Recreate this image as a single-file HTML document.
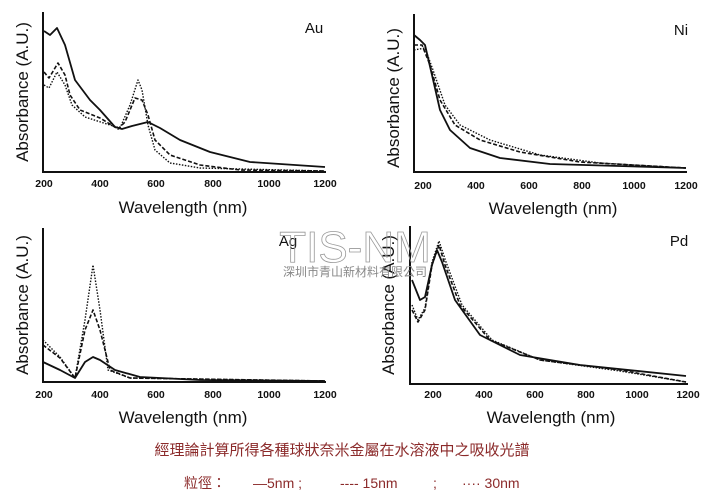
<!DOCTYPE html>
<html><head><meta charset="utf-8"><style>
body{margin:0;background:#fff;}
svg{display:block;font-family:"Liberation Sans",sans-serif;}
</style></head><body>
<svg width="711" height="497" viewBox="0 0 711 497" xmlns="http://www.w3.org/2000/svg">
<rect width="711" height="497" fill="#fff"/>
<g stroke="#111" stroke-width="2" fill="none">
<path d="M43 12V172H326"/>
<path d="M414 14V172H687"/>
<path d="M43 228V382H326"/>
<path d="M410 226V384H688"/>
</g>
<g font-size="10.5" font-weight="bold" fill="#111" text-anchor="middle">
<text x="44" y="187">200</text><text x="100" y="187">400</text><text x="156" y="187">600</text><text x="213" y="187">800</text><text x="269" y="187">1000</text><text x="325" y="187">1200</text>
<text x="423" y="189">200</text><text x="476" y="189">400</text><text x="529" y="189">600</text><text x="582" y="189">800</text><text x="634" y="189">1000</text><text x="686" y="189">1200</text>
<text x="44" y="398">200</text><text x="100" y="398">400</text><text x="156" y="398">600</text><text x="213" y="398">800</text><text x="269" y="398">1000</text><text x="325" y="398">1200</text>
<text x="433" y="398">200</text><text x="484" y="398">400</text><text x="535" y="398">600</text><text x="586" y="398">800</text><text x="637" y="398">1000</text><text x="688" y="398">1200</text>
</g>
<g font-size="17" fill="#111" text-anchor="middle">
<text x="183" y="213">Wavelength (nm)</text>
<text x="553" y="214">Wavelength (nm)</text>
<text x="183" y="423">Wavelength (nm)</text>
<text x="551" y="423">Wavelength (nm)</text>
<text transform="translate(28,92) rotate(-90)">Absorbance (A.U.)</text>
<text transform="translate(399,98) rotate(-90)">Absorbance (A.U.)</text>
<text transform="translate(28,305) rotate(-90)">Absorbance (A.U.)</text>
<text transform="translate(394,305) rotate(-90)">Absorbance (A.U.)</text>
<text x="314" y="33" font-size="15">Au</text>
<text x="681" y="35" font-size="15">Ni</text>
<text x="288" y="246" font-size="15">Ag</text>
<text x="679" y="246" font-size="15">Pd</text>
</g>
<g fill="none" stroke="#111" stroke-linejoin="round">
<!-- Au -->
<path stroke-width="1.8" d="M44 31L50 35L57 28L65 45L75 80L90 100L100 110L115 127L122 129L132 126L148 122L160 128L180 140L210 152L250 162L325 167"/>
<path stroke-width="1.6" stroke-dasharray="4,2" d="M44 72L49 78L58 63L65 75L70 95L80 110L100 118L118 129L125 122L135 98L142 100L148 115L155 140L170 155L200 165L240 170L325 171"/>
<path stroke-width="1.4" stroke-dasharray="1.5,1.5" d="M44 85L49 88L57 72L65 85L72 105L85 117L110 125L120 128L130 105L138 80L142 90L148 125L155 150L170 163L200 168L325 171"/>
<!-- Ni -->
<path stroke-width="1.8" d="M414 35L420 40L425 45L432 75L440 110L450 130L470 148L500 158L550 164L686 168"/>
<path stroke-width="1.6" stroke-dasharray="4,2" d="M414 45L422 45L430 65L440 100L455 125L480 140L520 152L580 162L686 168"/>
<path stroke-width="1.4" stroke-dasharray="1.5,1.5" d="M414 50L425 48L433 70L445 105L460 125L490 140L540 155L600 163L686 168"/>
<!-- Ag -->
<path stroke-width="1.8" d="M43 362L60 370L75 378L85 362L93 357L100 360L115 370L140 377L200 380L325 381"/>
<path stroke-width="1.6" stroke-dasharray="4,2" d="M43 345L60 358L75 378L85 330L93 310L100 330L110 370L130 378L325 381"/>
<path stroke-width="1.4" stroke-dasharray="1.5,1.5" d="M43 340L60 357L75 378L85 320L93 265L100 310L108 370L130 378L325 381"/>
<!-- Pd -->
<path stroke-width="1.8" d="M412 280L420 300L425 297L432 265L437 250L442 262L455 300L480 335L520 355L580 365L686 376"/>
<path stroke-width="1.6" stroke-dasharray="4,2" d="M412 310L418 322L425 310L432 265L439 245L445 265L460 305L490 340L540 360L620 370L686 382"/>
<path stroke-width="1.4" stroke-dasharray="1.5,1.5" d="M412 305L418 320L425 308L432 262L439 241L446 262L462 305L492 340L540 360L620 371L686 382"/>
</g>
<text x="355" y="262" font-size="44" fill="none" stroke="#999" stroke-width="0.8" text-anchor="middle" font-family="Liberation Sans,sans-serif">TIS-NM</text>
<text x="355" y="276" font-size="12" fill="#888" text-anchor="middle" font-family="Liberation Sans,Noto Sans CJK TC,sans-serif">深圳市青山新材料有限公司</text>
<text x="342" y="455" font-size="15" fill="#8b2a2a" text-anchor="middle" font-family="Liberation Sans,Noto Sans CJK TC,sans-serif">經理論計算所得各種球狀奈米金屬在水溶液中之吸收光譜</text>
<g font-size="14" fill="#8b2a2a" font-family="Liberation Sans,Noto Sans CJK TC,sans-serif">
<text x="184" y="488">粒徑：</text>
<text x="253" y="488">—5nm  ;</text>
<text x="340" y="488">---- 15nm</text>
<text x="433" y="488">;</text>
<text x="462" y="488">····   30nm</text>
</g>
</svg>
</body></html>
